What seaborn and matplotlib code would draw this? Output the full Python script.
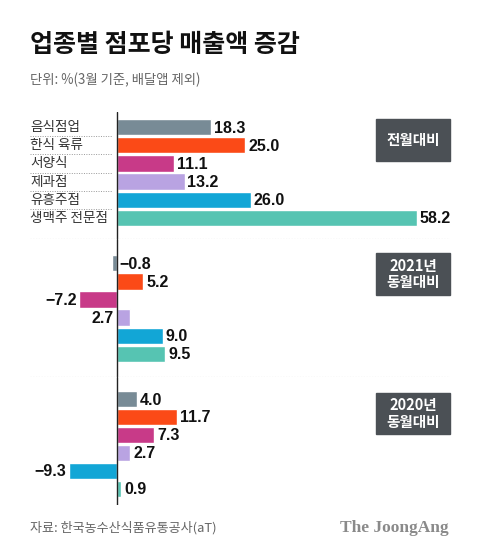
import numpy as np
import pandas as pd
import matplotlib
matplotlib.use('Agg')
import matplotlib.pyplot as plt
from matplotlib.patches import Rectangle
import seaborn as sns
sns.set_style('white')
plt.rcParams['font.family'] = ['Noto Sans CJK KR', 'DejaVu Sans']
plt.rcParams['axes.unicode_minus'] = True

categories = ['음식점업', '한식 육류', '서양식', '제과점', '유흥주점', '생맥주 전문점']
colors = ['#788b96', '#fb4a17', '#c83a88', '#b9a3e2', '#12a6d6', '#56c4b2']
panel_names = ['전월대비', '2021년\n동월대비', '2020년\n동월대비']
prev_month = [18.3, 25.0, 11.1, 13.2, 26.0, 58.2]
vs_2021 = [-0.8, 5.2, -7.2, 2.7, 9.0, 9.5]
vs_2020 = [4.0, 11.7, 7.3, 2.7, -9.3, 0.9]
panels = [prev_month, vs_2021, vs_2020]

W, H = 480, 556
fig = plt.figure(figsize=(W/100, H/100), dpi=100)

def fx(px):
    return px / W

def fy(py):
    return 1 - py / H

x_left, x_right = 30, 450
zero_px = 116.5
scale = 5.155
xlim = (-(zero_px - x_left) / scale, (x_right - zero_px) / scale)

# axes pixel extents (top, bottom) and y limits
ax_spans = [(112, 239), (239, 377), (377, 505)]
ylims = [(6.17, -0.84), (6.28, -1.34), (5.89, -1.23)]
box_spans = [(119, 161), (253, 295), (393, 434)]

num_font = ['Liberation Sans', 'DejaVu Sans']

for p, vals in enumerate(panels):
    top, bot = ax_spans[p]
    ax = fig.add_axes([fx(x_left), fy(bot), fx(x_right - x_left), (bot - top) / H])
    df = pd.DataFrame({'cat': categories, 'val': vals})
    sns.barplot(data=df, x='val', y='cat', hue='cat', palette=colors, orient='h',
                width=0.9, legend=False, ax=ax, saturation=1)
    ax.set_xlim(*xlim)
    ax.set_ylim(*ylims[p])
    ax.axvline(0, color='#222222', lw=1.0)
    ax.set_xlabel('')
    ax.set_ylabel('')
    ax.set_xticks([])
    ax.set_yticks([])
    for s in ax.spines.values():
        s.set_visible(False)
    if p < 2:
        ax.axhline(ylims[p][0], color='#999999', lw=0.8, ls=(0, (1, 1.5)))
    if p == 0:
        for i, c in enumerate(categories):
            ax.text(xlim[0], i, c, ha='left', va='center', fontsize=9.8,
                    color='#333333')
        for i in range(len(categories) - 1):
            ax.plot([xlim[0], -0.8], [i + 0.5, i + 0.5], color='#999999',
                    lw=0.7, ls=(0, (1, 1.5)))
    for i, v in enumerate(vals):
        label = f'{v:.1f}'.replace('-', '\u2212')
        right_side = v >= 0
        if p == 1 and i in (0, 3):
            right_side = not right_side
        if right_side:
            xpos = max(v, 0) + 0.55
            ha = 'left'
        else:
            xpos = min(v, 0) - 0.55
            ha = 'right'
        ax.text(xpos, i + 0.05, label, ha=ha, va='center', fontsize=11.5,
                fontweight='bold', color='#111111', family=num_font)
    bt, bb = box_spans[p]
    fig.patches.append(Rectangle((fx(376), fy(bb)), fx(74), (bb - bt) / H,
                                 transform=fig.transFigure, color='#4b5055',
                                 zorder=5))
    fig.text(fx(413), fy((bt + bb) / 2), panel_names[p], ha='center',
             va='center', fontsize=10.5, fontweight='bold', color='white',
             linespacing=1.05, zorder=6)

fig.text(fx(30), fy(45), '업종별 점포당 매출액 증감', ha='left', va='center',
         fontsize=18, fontweight='black', color='#111111')
fig.text(fx(30), fy(80), '단위: %(3월 기준, 배달앱 제외)', ha='left',
         va='center', fontsize=9.6, color='#666666')
fig.text(fx(30), fy(528), '자료: 한국농수산식품유통공사(aT)', ha='left',
         va='center', fontsize=9.4, color='#666666')
fig.text(fx(449), fy(528), 'The JoongAng', ha='right', va='center',
         fontsize=12.5, fontweight='bold', color='#8a8a8a',
         family=['Liberation Serif', 'DejaVu Serif'])

fig.savefig('out.png', dpi=100)
